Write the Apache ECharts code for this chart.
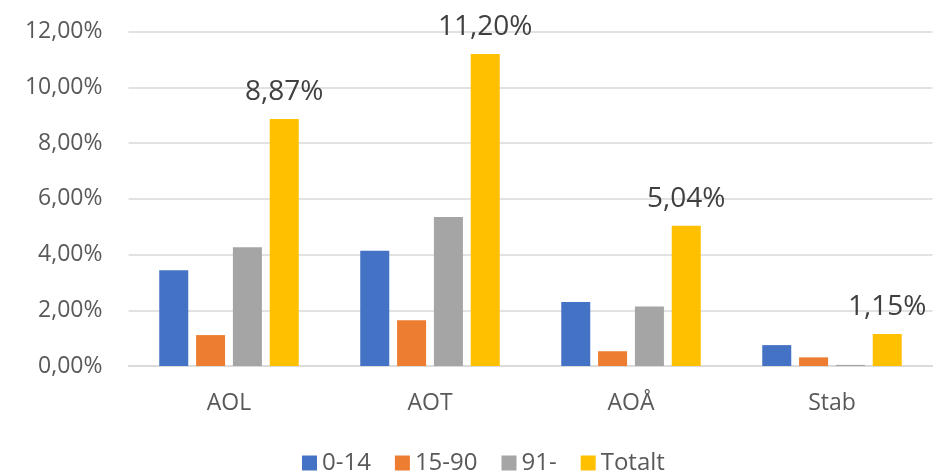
<!DOCTYPE html>
<html>
<head>
<meta charset="utf-8">
<script src="https://cdn.jsdelivr.net/npm/echarts@6/dist/echarts.min.js"></script>
<style>html,body{margin:0;padding:0;background:#fff}#c{width:935px;height:472px}</style>
</head>
<body>
<div id="c"></div>
<script>
const categories = ['AOL', 'AOT', 'AOÅ', 'Stab'];
const seriesNames = ['0-14', '15-90', '91-', 'Totalt'];
const v0_14 = [3.44, 4.14, 2.30, 0.75];
const v15_90 = [1.11, 1.64, 0.53, 0.31];
const v91 = [4.26, 5.35, 2.14, 0.04];
const vTotalt = [8.87, 11.20, 5.04, 1.15];
const yTicks = [0, 2, 4, 6, 8, 10, 12];

const colors = ['#4472C4', '#ED7D31', '#A5A5A5', '#FFC000'];
const FONT = 'Open Sans';
const fmt = v => v.toFixed(2).replace('.', ',') + '%';

const chart = echarts.init(document.getElementById('c'), null, {renderer: 'canvas'});
const mk = (name, data, i, label) => ({
  name, type: 'bar', data, barWidth: 29, barGap: '27%',
  itemStyle: {color: colors[i]},
  label: label ? {show: true, position: 'top', distance: 13, color: '#404040',
    fontFamily: FONT, fontSize: 28, formatter: p => fmt(p.value)} : {show: false},
  emphasis: {disabled: true}
});
chart.setOption({
  animation: false,
  textStyle: {fontFamily: FONT},
  grid: {left: 128.5, right: 2.5, top: 31.8, bottom: 106, containLabel: false},
  legend: {
    data: seriesNames, left: 297, top: 446, itemWidth: 15, itemHeight: 15, itemGap: 24,
    icon: 'rect', textStyle: {fontFamily: FONT, fontSize: 24, color: '#595959'}
  },
  xAxis: {
    type: 'category', data: categories,
    axisLine: {lineStyle: {color: '#D9D9D9', width: 1.5}},
    axisTick: {show: false},
    axisLabel: {fontFamily: FONT, fontSize: 23, color: '#595959', margin: 26}
  },
  yAxis: {
    type: 'value', min: yTicks[0], max: yTicks[yTicks.length - 1], interval: 2,
    axisLine: {show: false}, axisTick: {show: false},
    splitLine: {lineStyle: {color: '#D9D9D9', width: 1.5}},
    axisLabel: {fontFamily: FONT, fontSize: 23, color: '#595959', margin: 26, formatter: v => fmt(v)}
  },
  series: [
    mk(seriesNames[0], v0_14, 0, false),
    mk(seriesNames[1], v15_90, 1, false),
    mk(seriesNames[2], v91, 2, false),
    mk(seriesNames[3], vTotalt, 3, true)
  ]
});
</script>
</body>
</html>
